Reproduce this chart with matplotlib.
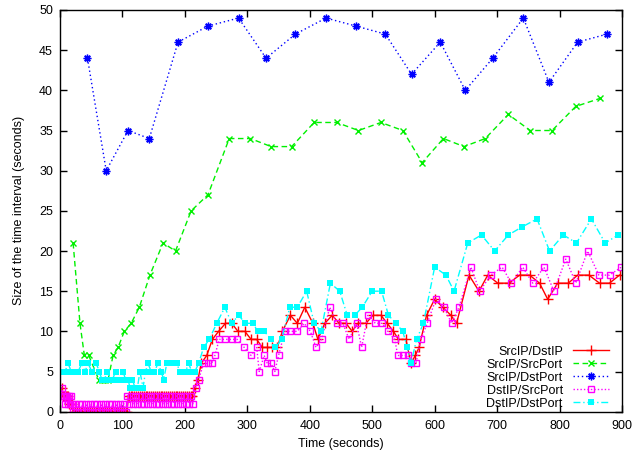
import numpy as np
import matplotlib
matplotlib.use("Agg")
import matplotlib.pyplot as plt

plt.rcParams["font.family"] = ["Liberation Sans", "DejaVu Sans"]

# data: x = time (s), y = size of the time interval (s)
red_t = [3, 5, 7, 9, 11, 13, 15, 17, 19,
         21, 24, 27, 30, 33, 36, 39, 42, 45, 48, 51, 54, 57, 60, 63, 66,
         69, 72, 75, 78, 81, 84, 87, 90, 93, 96, 99, 102, 105, 107,
         110, 113, 116, 119, 122, 125, 128, 131, 134, 137, 140, 143, 146,
         149, 152, 155, 158, 161, 164, 167, 170, 173, 176, 179, 182, 185,
         188, 191, 194, 197, 200, 203, 206, 209, 212,
         216, 221, 226, 235, 244, 254, 265, 275, 285, 296,
         306, 315, 324, 331, 339, 348, 356, 369, 380, 392,
         405, 413, 424, 436, 447, 458, 468, 477, 490, 501,
         514, 524, 534, 542, 554, 562, 569, 575, 587, 600,
         613, 626, 635, 655, 671, 685, 701, 719, 736, 752,
         768, 781, 797, 814, 829, 847, 864, 880, 896]
red_v = [3, 2, 2, 2, 2, 2, 1, 1, 1,
         0, 0, 0, 0, 0, 0, 0, 0, 0, 0, 0, 0, 0, 0, 0, 0,
         0, 0, 0, 0, 0, 0, 0, 0, 0, 0, 0, 0, 0, 0,
         2, 2, 2, 2, 2, 2, 2, 2, 2, 2, 2, 2, 2,
         2, 2, 2, 2, 2, 2, 2, 2, 2, 2, 2, 2, 2,
         2, 2, 2, 2, 2, 2, 2, 2, 2,
         3, 4, 6, 7, 9, 10, 11, 11, 10, 10,
         9, 9, 8, 8, 8, 8, 10, 12, 11, 13,
         11, 9, 11, 12, 11, 11, 10, 11, 11, 12,
         12, 11, 10, 9, 9, 6, 7, 8, 12, 14,
         13, 12, 11, 17, 15, 17, 16, 16, 17, 17,
         16, 14, 16, 16, 17, 17, 16, 16, 17]

green_t = [21, 32, 39, 46, 62, 67, 72, 77, 85, 93, 103, 114, 127, 144, 165,
           185, 210, 237, 271, 305, 338, 371, 407, 443, 478, 514, 549, 580,
           614, 647, 681, 718, 753, 788, 826, 865]
green_v = [21, 11, 7, 7, 4, 4, 4, 4, 7, 8, 10, 11, 13, 17, 21,
           20, 25, 27, 34, 34, 33, 33, 36, 36, 35, 36, 35, 31,
           34, 33, 34, 37, 35, 35, 38, 39]

blue_t = [44, 74, 109, 143, 189, 237, 286, 330, 377, 426, 474, 521, 563,
          609, 649, 693, 742, 783, 829, 876]
blue_v = [44, 30, 35, 34, 46, 48, 49, 44, 47, 49, 48, 47, 42,
          46, 40, 44, 49, 41, 46, 47]

mag_t = [1, 3, 5, 7, 8, 10, 12, 13, 15, 16, 18, 19,
         21, 24, 27, 30, 33, 36, 39, 42, 45, 48, 51, 54, 57, 60, 63,
         66, 69, 72, 75, 78, 81, 84, 87, 90, 93, 96, 99, 102, 105,
         108, 111, 114, 117, 120, 123, 126, 129, 132, 135, 138, 141,
         144, 147, 150, 153, 156, 159, 162, 165, 168, 171, 174, 177,
         180, 183, 186, 189, 192, 195, 198, 201, 204, 207, 210, 213,
         217, 222, 230, 237, 243, 248, 255, 265, 275, 284,
         295, 306, 315, 319, 327, 332, 338, 344, 350, 360,
         369, 380, 391, 401, 410, 419, 432, 443, 453, 463,
         475, 483, 493, 505, 516, 525, 536, 541, 549, 557,
         562, 570, 578, 588, 602, 615, 627, 639, 658, 672,
         690, 708, 723, 741, 757, 775, 791, 810, 826, 845,
         863, 880, 899]
mag_v = [2, 3, 2, 2, 1, 2, 2, 1, 2, 1, 2, 1,
         0, 1, 0, 1, 0, 1, 0, 1, 0, 1, 0, 1, 0, 1, 0,
         1, 0, 1, 0, 1, 0, 1, 0, 1, 0, 1, 0, 1, 0,
         2, 1, 2, 1, 2, 1, 2, 1, 2, 1, 2, 1,
         2, 1, 2, 1, 2, 1, 2, 1, 2, 1, 2, 1,
         2, 1, 2, 1, 2, 1, 2, 1, 2, 1, 2, 1,
         3, 4, 6, 6, 6, 7, 9, 9, 9, 9,
         8, 7, 8, 5, 7, 6, 6, 5, 7, 10,
         10, 10, 11, 10, 8, 9, 13, 11, 11, 9,
         11, 8, 12, 11, 11, 10, 9, 7, 7, 7,
         6, 6, 9, 11, 14, 13, 11, 13, 18, 15,
         17, 18, 16, 18, 16, 18, 15, 19, 16, 20,
         17, 17, 18]

cyan_t = [3, 8, 13, 18, 23, 29, 35, 40, 45, 51,
          58, 63, 67, 71, 76, 80, 84, 89, 93, 97,
          101, 105, 109, 112, 116, 120, 124, 128, 133, 137,
          141, 146, 151, 157, 162, 166, 171, 177, 182, 187,
          192, 197, 201, 206, 211, 216, 222, 230, 239, 251,
          264, 275, 286, 297, 309, 317, 327, 338, 345, 355,
          368, 380, 395, 407, 418, 433, 448, 460, 472, 484,
          500, 515, 526, 538, 549, 556, 562, 571, 582, 600,
          618, 631, 653, 675, 696, 718, 740, 764, 784, 806,
          827, 851, 873, 894]
cyan_v = [5, 5, 6, 5, 5, 5, 6, 5, 6, 5,
          6, 5, 4, 4, 5, 4, 4, 5, 4, 4,
          5, 4, 4, 3, 4, 3, 3, 5, 3, 5,
          6, 5, 5, 6, 5, 4, 6, 6, 6, 6,
          5, 5, 5, 6, 5, 5, 6, 8, 9, 11,
          13, 11, 12, 11, 11, 10, 10, 9, 8, 9,
          13, 13, 15, 11, 10, 16, 15, 12, 12, 13,
          15, 15, 12, 11, 10, 8, 6, 9, 11, 18,
          17, 15, 21, 22, 20, 22, 23, 24, 20, 22,
          21, 24, 21, 22]

fig = plt.figure(figsize=(6.34, 4.54), dpi=100)
ax = fig.add_axes([60 / 634, 42.3 / 454, 562 / 634, 401.7 / 454])

ax.plot(red_t, red_v, color="#ff0000", lw=1, marker="+", ms=6.5, mew=1,
        label="SrcIP/DstIP")
ax.plot(green_t, green_v, color="#00f000", lw=1, dashes=(4, 2.5),
        marker="x", ms=4.5, mew=1, label="SrcIP/SrcPort")
ax.plot(blue_t, blue_v, color="#0000ff", lw=1, dashes=(1, 2),
        marker=(8, 2, 0), ms=5.5, mew=1, label="SrcIP/DstPort")
ax.plot(mag_t, mag_v, color="#ff00ff", lw=1, dashes=(1, 1.5),
        marker="s", ms=5, mew=1, mfc="none", label="DstIP/SrcPort")
ax.plot(cyan_t, cyan_v, color="#00ffff", lw=1, dashes=(5, 2, 1, 2),
        marker="s", ms=5, mew=0, label="DstIP/DstPort")

ax.set_xlim(0, 900)
ax.set_ylim(0, 50)
ax.set_xticks(np.arange(0, 901, 100))
ax.set_yticks(np.arange(0, 51, 5))
ax.tick_params(direction="in", top=True, right=True, length=5, width=1,
               labelsize=9, colors="black")
ax.tick_params(axis="x", pad=6)
ax.tick_params(axis="y", pad=5)
for s in ax.spines.values():
    s.set_linewidth(1)

ax.set_xlabel("Time (seconds)", fontsize=9, labelpad=4)
ax.set_ylabel("Size of the time interval (seconds)", fontsize=9, labelpad=10)

# gnuplot-style key: labels right-aligned, sample line on the right
ax.legend(loc="lower right", bbox_to_anchor=(0.977, 0.005),
          markerfirst=False, frameon=False, fontsize=9,
          handlelength=2.9, handletextpad=0.8, labelspacing=0.08,
          borderpad=0, borderaxespad=0)

fig.savefig("out.png", dpi=100)
